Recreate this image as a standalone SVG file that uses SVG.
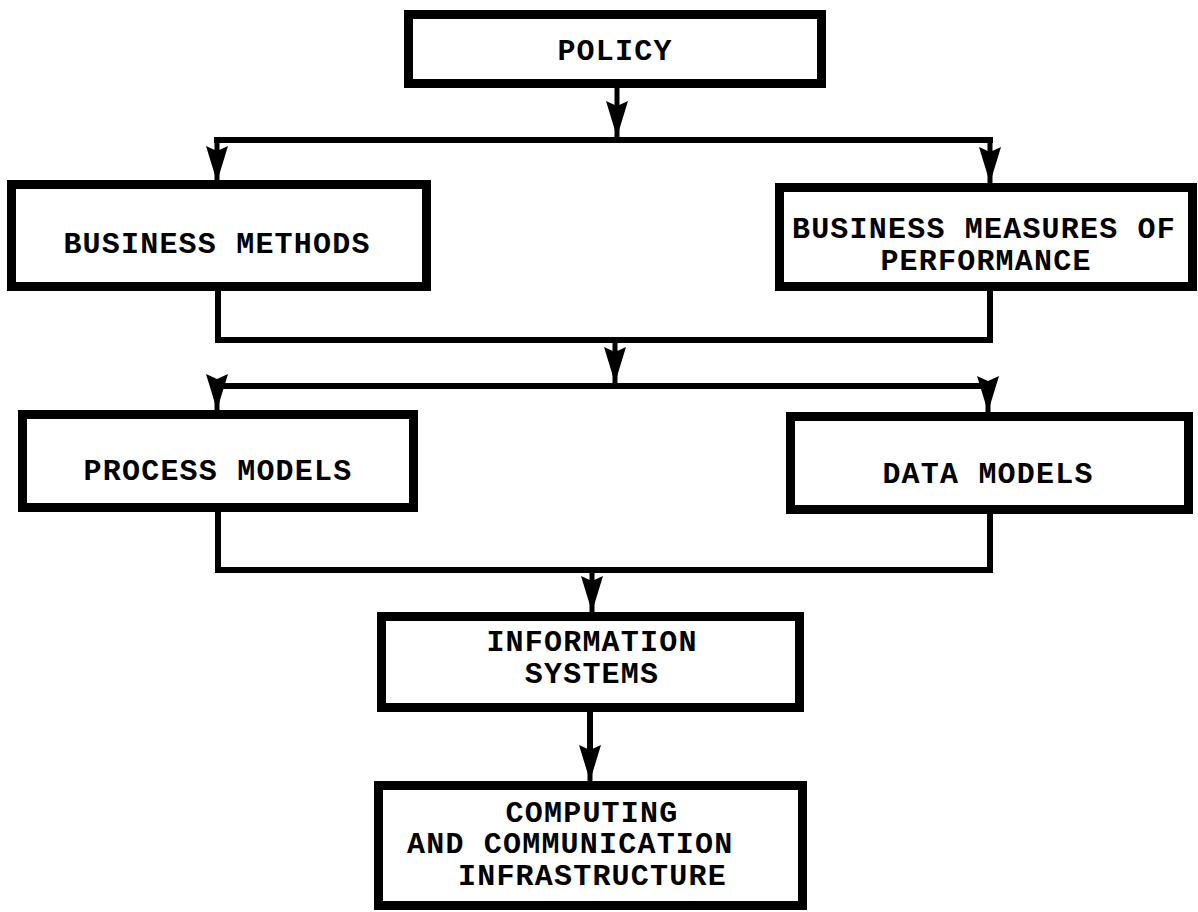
<svg xmlns="http://www.w3.org/2000/svg" width="1198" height="912" viewBox="0 0 1198 912">
<defs>
<style>
.box{fill:#fff;stroke:#000;stroke-width:9}
.t{font-family:"Liberation Mono","Courier New",monospace;font-weight:bold;font-size:30px;letter-spacing:1.2px;fill:#000;text-anchor:middle}
.ts{font-family:"Liberation Mono","Courier New",monospace;font-weight:bold;font-size:30px;letter-spacing:1.2px;fill:#000}
.c{fill:none;stroke:#000;stroke-width:6;stroke-linejoin:miter;stroke-linecap:square}
.c2{fill:none;stroke:#000;stroke-width:5;stroke-linecap:butt}
</style>
<marker id="ah" markerUnits="userSpaceOnUse" markerWidth="40" markerHeight="24" viewBox="-38 -12 40 24" refX="0" refY="0" orient="auto">
<path d="M0,0 L-36,-11 L-31,0 L-36,11 Z" fill="#000"/>
</marker>
</defs>
<rect width="1198" height="912" fill="#fff"/>
<g id="connectors">
<line class="c2" x1="617" y1="88" x2="617" y2="137" marker-end="url(#ah)"/>
<path class="c" d="M217,140 L990,140"/>
<line class="c2" x1="217" y1="140" x2="217" y2="182" marker-end="url(#ah)"/>
<line class="c2" x1="990" y1="140" x2="990" y2="183" marker-end="url(#ah)"/>
<path class="c" d="M218,291 L218,340 L990,340 L990,291"/>
<line class="c2" x1="615" y1="340" x2="615" y2="383" marker-end="url(#ah)"/>
<path class="c" d="M217,386 L988,386"/>
<line class="c2" x1="217" y1="386" x2="217" y2="410" marker-end="url(#ah)"/>
<line class="c2" x1="988" y1="386" x2="988" y2="412" marker-end="url(#ah)"/>
<path class="c" d="M218,512 L218,570 L990,570 L990,513"/>
<line class="c2" x1="592" y1="570" x2="592" y2="612" marker-end="url(#ah)"/>
<line class="c" x1="590" y1="712" x2="590" y2="760"/>
<line class="c2" x1="590" y1="740" x2="590" y2="781" marker-end="url(#ah)"/>
</g>
<g id="policy">
<rect class="box" x="408.5" y="14.5" width="413" height="69"/>
<text class="t" x="615" y="60">POLICY</text>
</g>
<g id="business-methods">
<rect class="box" x="11.5" y="184.5" width="415" height="102"/>
<text class="t" x="217" y="253">BUSINESS METHODS</text>
</g>
<g id="business-measures">
<rect class="box" x="779.5" y="187.5" width="413" height="99"/>
<text class="t" x="984" y="238">BUSINESS MEASURES OF</text>
<text class="t" x="986" y="270">PERFORMANCE</text>
</g>
<g id="process-models">
<rect class="box" x="22.5" y="414.5" width="391" height="93"/>
<text class="t" x="218" y="480">PROCESS MODELS</text>
</g>
<g id="data-models">
<rect class="box" x="790.5" y="416.5" width="398" height="93"/>
<text class="t" x="988" y="483">DATA MODELS</text>
</g>
<g id="information-systems">
<rect class="box" x="381.5" y="616.5" width="418" height="91"/>
<text class="t" x="592" y="651">INFORMATION</text>
<text class="t" x="592" y="683">SYSTEMS</text>
</g>
<g id="computing">
<rect class="box" x="378.5" y="785.5" width="424" height="120"/>
<text class="t" x="592" y="822">COMPUTING</text>
<text class="ts" x="407" y="853">AND COMMUNICATION</text>
<text class="ts" x="458" y="885">INFRASTRUCTURE</text>
</g>
</svg>
